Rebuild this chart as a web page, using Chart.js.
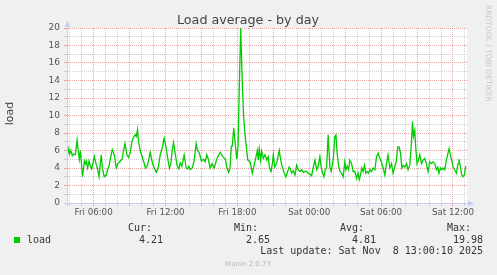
<!DOCTYPE html>
<html>
<head>
<meta charset="utf-8">
<script src="https://cdn.jsdelivr.net/npm/chart.js@4.4.0/dist/chart.umd.min.js"></script>
<style>
  html, body { margin: 0; padding: 0; background: #F0F0F0; }
  #wrap { width: 497px; height: 275px; position: relative; }
  canvas { display: block; }
</style>
</head>
<body>
<div id="wrap"><canvas id="c" width="497" height="275"></canvas></div>
<script>
// ---- data (hours since Fri 00:00, load values) ----
const times = [3.78,3.92,4.00,4.10,4.23,4.33,4.48,4.62,4.73,4.81,4.89,5.08,5.23,5.31,5.39,5.50,5.62,5.73,5.83,5.95,
6.06,6.20,6.31,6.45,6.56,6.64,6.73,6.89,7.06,7.17,7.28,7.39,7.56,7.73,7.89,8.03,8.23,8.37,8.50,8.62,
8.78,8.92,9.06,9.20,9.33,9.48,9.56,9.67,9.75,9.89,10.12,10.23,10.33,10.50,10.73,10.87,11.00,11.23,11.39,11.56,
11.73,11.89,12.03,12.20,12.33,12.45,12.56,12.67,12.83,12.98,13.12,13.23,13.37,13.56,13.73,13.83,13.95,14.06,14.23,14.39,
14.56,14.67,14.81,15.00,15.17,15.31,15.45,15.58,15.73,15.89,16.06,16.28,16.56,16.78,17.00,17.14,17.28,17.39,17.50,17.58,
17.70,17.81,17.95,18.06,18.14,18.28,18.42,18.53,18.64,18.75,18.87,19.06,19.25,19.39,19.56,19.67,19.75,19.83,19.95,20.03,
20.17,20.31,20.45,20.58,20.67,20.81,20.92,21.00,21.12,21.28,21.39,21.50,21.62,21.75,21.92,22.06,22.20,22.33,22.45,22.53,
22.67,22.81,22.95,23.08,23.23,23.37,23.50,23.64,23.78,23.92,24.06,24.20,24.33,24.48,24.62,24.75,24.89,24.98,25.08,25.23,
25.33,25.45,25.58,25.73,25.83,26.00,26.14,26.23,26.33,26.45,26.56,26.70,26.83,26.97,27.06,27.17,27.28,27.39,27.53,27.67,
27.81,27.95,28.08,28.17,28.28,28.39,28.50,28.62,28.73,28.83,28.95,29.06,29.20,29.33,29.48,29.62,29.75,29.89,30.03,30.17,
30.31,30.45,30.58,30.73,30.87,31.00,31.14,31.28,31.39,31.50,31.62,31.73,31.83,31.98,32.12,32.25,32.39,32.53,32.62,32.70,
32.81,32.89,33.00,33.12,33.23,33.37,33.50,33.64,33.78,33.92,34.06,34.20,34.33,34.48,34.62,34.73,34.83,34.95,35.06,35.17,
35.31,35.45,35.58,35.67,35.78,35.89,36.00,36.14,36.28,36.42,36.50,36.62,36.73,36.83,36.95,37.06];
const loadValues = [5.3,6.2,5.6,6.0,5.4,5.6,5.5,7.2,5.8,5.0,6.0,3.0,4.8,4.5,4.8,4.0,4.8,4.2,3.9,4.6,
5.3,4.5,4.0,3.0,4.5,5.5,4.0,3.0,3.2,3.8,4.2,5.0,6.1,5.5,4.0,4.5,4.8,5.0,6.0,6.8,
5.5,5.2,5.8,7.0,7.5,7.8,7.6,8.4,7.0,6.0,5.0,4.5,4.0,4.3,5.8,4.8,4.2,3.5,4.0,5.5,
6.3,7.4,6.5,5.0,4.0,4.5,6.0,6.9,5.5,4.2,3.9,4.6,4.2,5.5,4.0,3.9,4.2,3.8,4.0,4.8,
6.8,6.0,5.8,4.8,5.0,4.7,5.5,5.0,4.0,4.5,4.0,5.0,5.8,5.3,5.0,4.0,3.5,4.0,6.5,6.5,
8.6,7.0,5.0,6.5,12.0,19.98,13.3,9.8,7.8,6.4,4.9,4.7,3.4,4.3,5.3,6.0,4.9,6.2,4.9,5.9,
5.1,5.5,4.9,5.3,4.1,3.6,4.5,5.5,4.1,4.5,5.3,6.0,4.9,4.1,3.4,3.0,3.6,4.1,3.8,3.4,
3.7,3.2,4.3,3.8,3.6,3.8,3.5,3.6,3.6,3.4,3.3,3.1,4.0,4.9,3.8,4.2,5.3,4.3,3.6,3.0,
3.8,4.0,7.8,4.0,3.6,4.9,7.6,7.8,5.7,4.3,3.6,3.4,3.0,4.7,3.8,4.2,3.8,4.9,4.5,3.6,
3.6,2.8,3.4,2.65,3.2,4.0,3.6,4.3,3.4,3.6,3.4,3.8,3.6,4.0,3.8,5.3,5.7,5.1,4.7,4.0,
3.2,4.5,5.5,4.0,4.5,3.4,4.1,4.9,6.4,6.4,5.7,4.0,4.3,4.1,4.5,3.8,4.3,6.8,9.3,7.6,
8.3,6.4,4.5,4.9,5.5,4.5,4.9,5.1,4.5,3.6,4.7,4.5,4.7,4.5,3.8,4.1,3.4,4.0,3.8,4.0,
3.8,4.9,5.7,6.2,5.5,4.9,4.1,3.8,3.4,4.5,5.0,4.1,3.2,3.0,3.2,4.21];
const xTickHours = [6, 12, 18, 24, 30, 36];
const xTickLabels = ['Fri 06:00', 'Fri 12:00', 'Fri 18:00', 'Sat 00:00', 'Sat 06:00', 'Sat 12:00'];
const yTickValues = [0, 2, 4, 6, 8, 10, 12, 14, 16, 18, 20];
const seriesName = 'load';
const statLabels = ['Cur:', 'Min:', 'Avg:', 'Max:'];
const statValues = ['4.21', '2.65', '4.81', '19.98'];
const chartTitle = 'Load average - by day';
const yAxisTitle = 'load';
const lastUpdate = 'Last update: Sat Nov  8 13:00:10 2025';
const footer = 'Munin 2.0.73';
const watermark = 'RRDTOOL / TOBI OETIKER';

const X_MIN = 3.78, X_MAX = 37.17;
const MAJOR = 'rgba(222,120,120,0.62)';
const MINOR = 'rgba(175,175,175,0.6)';
const AXIS = '#C8CEF2';

const points = times.map((t, i) => ({ x: t, y: loadValues[i] }));

const decor = {
  id: 'decor',
  beforeDraw(chart) {
    const { ctx, chartArea: a } = chart;
    ctx.save();
    ctx.fillStyle = '#F0F0F0';
    ctx.fillRect(0, 0, chart.width, chart.height);
    ctx.fillStyle = '#FFFFFF';
    ctx.fillRect(a.left, a.top, a.right - a.left, a.bottom - a.top);
    ctx.restore();
  },
  afterDraw(chart) {
    const { ctx, chartArea: a } = chart;
    ctx.save();
    // axes (solid) and arrows
    ctx.strokeStyle = AXIS;
    ctx.lineWidth = 1;
    ctx.beginPath();
    ctx.moveTo(Math.round(a.left) + 0.5, a.top - 2);
    ctx.lineTo(Math.round(a.left) + 0.5, a.bottom + 3);
    ctx.moveTo(a.left - 3, Math.round(a.bottom) + 0.5);
    ctx.lineTo(a.right + 2, Math.round(a.bottom) + 0.5);
    ctx.stroke();
    ctx.fillStyle = AXIS;
    ctx.beginPath();
    ctx.moveTo(a.left - 2.5, a.top - 1); ctx.lineTo(a.left + 3.5, a.top - 1); ctx.lineTo(a.left + 0.5, a.top - 7); ctx.closePath(); ctx.fill();
    ctx.beginPath();
    ctx.moveTo(a.right + 1, a.bottom - 2.5); ctx.lineTo(a.right + 1, a.bottom + 3.5); ctx.lineTo(a.right + 7, a.bottom + 0.5); ctx.closePath(); ctx.fill();
    // title
    ctx.fillStyle = '#444';
    ctx.font = '12.7px "DejaVu Sans"';
    ctx.textAlign = 'center';
    ctx.textBaseline = 'alphabetic';
    ctx.fillText(chartTitle, 248, 24);
    // y-axis title
    ctx.save();
    ctx.translate(10, (a.top + a.bottom) / 2 - 2);
    ctx.rotate(-Math.PI / 2);
    ctx.font = '11px "DejaVu Sans"';
    ctx.fillStyle = '#444';
    ctx.textAlign = 'center';
    ctx.textBaseline = 'middle';
    ctx.fillText(yAxisTitle, 0, 0);
    ctx.restore();
    // watermark
    ctx.save();
    ctx.translate(488, 5);
    ctx.rotate(Math.PI / 2);
    ctx.font = '7.5px "DejaVu Sans"';
    ctx.fillStyle = '#C8C8C8';
    ctx.textAlign = 'left';
    ctx.textBaseline = 'middle';
    ctx.fillText(watermark, 0, 0);
    ctx.restore();
    // legend
    ctx.fillStyle = '#00CC00';
    ctx.fillRect(14, 237, 6, 6);
    ctx.font = '10px "DejaVu Sans Mono"';
    ctx.fillStyle = '#333';
    ctx.textBaseline = 'middle';
    ctx.textAlign = 'left';
    ctx.fillText(seriesName, 27, 240);
    const labelX = [128, 234, 340, 447];
    const valueRight = [163, 270, 376, 483];
    statLabels.forEach((s, i) => ctx.fillText(s, labelX[i], 228.5));
    ctx.textAlign = 'right';
    statValues.forEach((s, i) => ctx.fillText(s, valueRight[i], 240));
    ctx.fillText(lastUpdate, 483, 251.5);
    ctx.font = '7px "DejaVu Sans"';
    ctx.fillStyle = '#B8B8B8';
    ctx.textAlign = 'center';
    ctx.fillText(footer, 248, 264.5);
    ctx.restore();
  }
};

new Chart(document.getElementById('c'), {
  type: 'line',
  data: {
    datasets: [{
      label: seriesName,
      data: points,
      borderColor: '#00CC00',
      borderWidth: 1.3,
      pointRadius: 0,
      tension: 0,
      fill: false
    }]
  },
  options: {
    responsive: false,
    animation: false,
    layout: { padding: { top: 28, right: 30, left: 0, bottom: 0 } },
    plugins: { legend: { display: false }, title: { display: false }, tooltip: { enabled: false } },
    scales: {
      x: {
        type: 'linear',
        min: X_MIN,
        max: X_MAX,
        afterFit(s) { s.height = 72; },
        afterBuildTicks(s) {
          const t = [];
          for (let h = Math.ceil(X_MIN); h <= Math.floor(X_MAX); h++) t.push({ value: h });
          s.ticks = t;
        },
        ticks: {
          autoSkip: false,
          maxRotation: 0,
          padding: 1.5,
          color: '#555',
          font: { family: 'DejaVu Sans', size: 8.7 },
          callback(v) { const i = xTickHours.indexOf(v); return i >= 0 ? xTickLabels[i] : ''; }
        },
        grid: {
          color(c) { return c.tick && c.tick.value % 3 === 0 ? MAJOR : MINOR; },
          lineWidth: 1,
          tickLength: 3,
          drawTicks: true
        },
        border: { display: true, color: 'rgba(0,0,0,0)', width: 1, dash: [1, 1] }
      },
      y: {
        min: 0,
        max: 20,
        afterFit(s) { s.width = 67; },
        afterBuildTicks(s) {
          const t = [];
          for (let v = 0; v <= 20; v++) t.push({ value: v });
          s.ticks = t;
        },
        ticks: {
          autoSkip: false,
          padding: 4,
          color: '#555',
          font: { family: 'DejaVu Sans', size: 9 },
          callback(v) { return yTickValues.includes(v) ? String(v) : ''; }
        },
        grid: {
          color(c) {
            if (!c.tick) return MINOR;
            if (c.tick.value === 0) return 'rgba(0,0,0,0)';
            return c.tick.value % 2 === 0 ? MAJOR : MINOR;
          },
          lineWidth: 1,
          tickLength: 3
        },
        border: { display: true, color: 'rgba(0,0,0,0)', width: 1, dash: [1, 1] }
      }
    }
  },
  plugins: [decor]
});
</script>
</body>
</html>
